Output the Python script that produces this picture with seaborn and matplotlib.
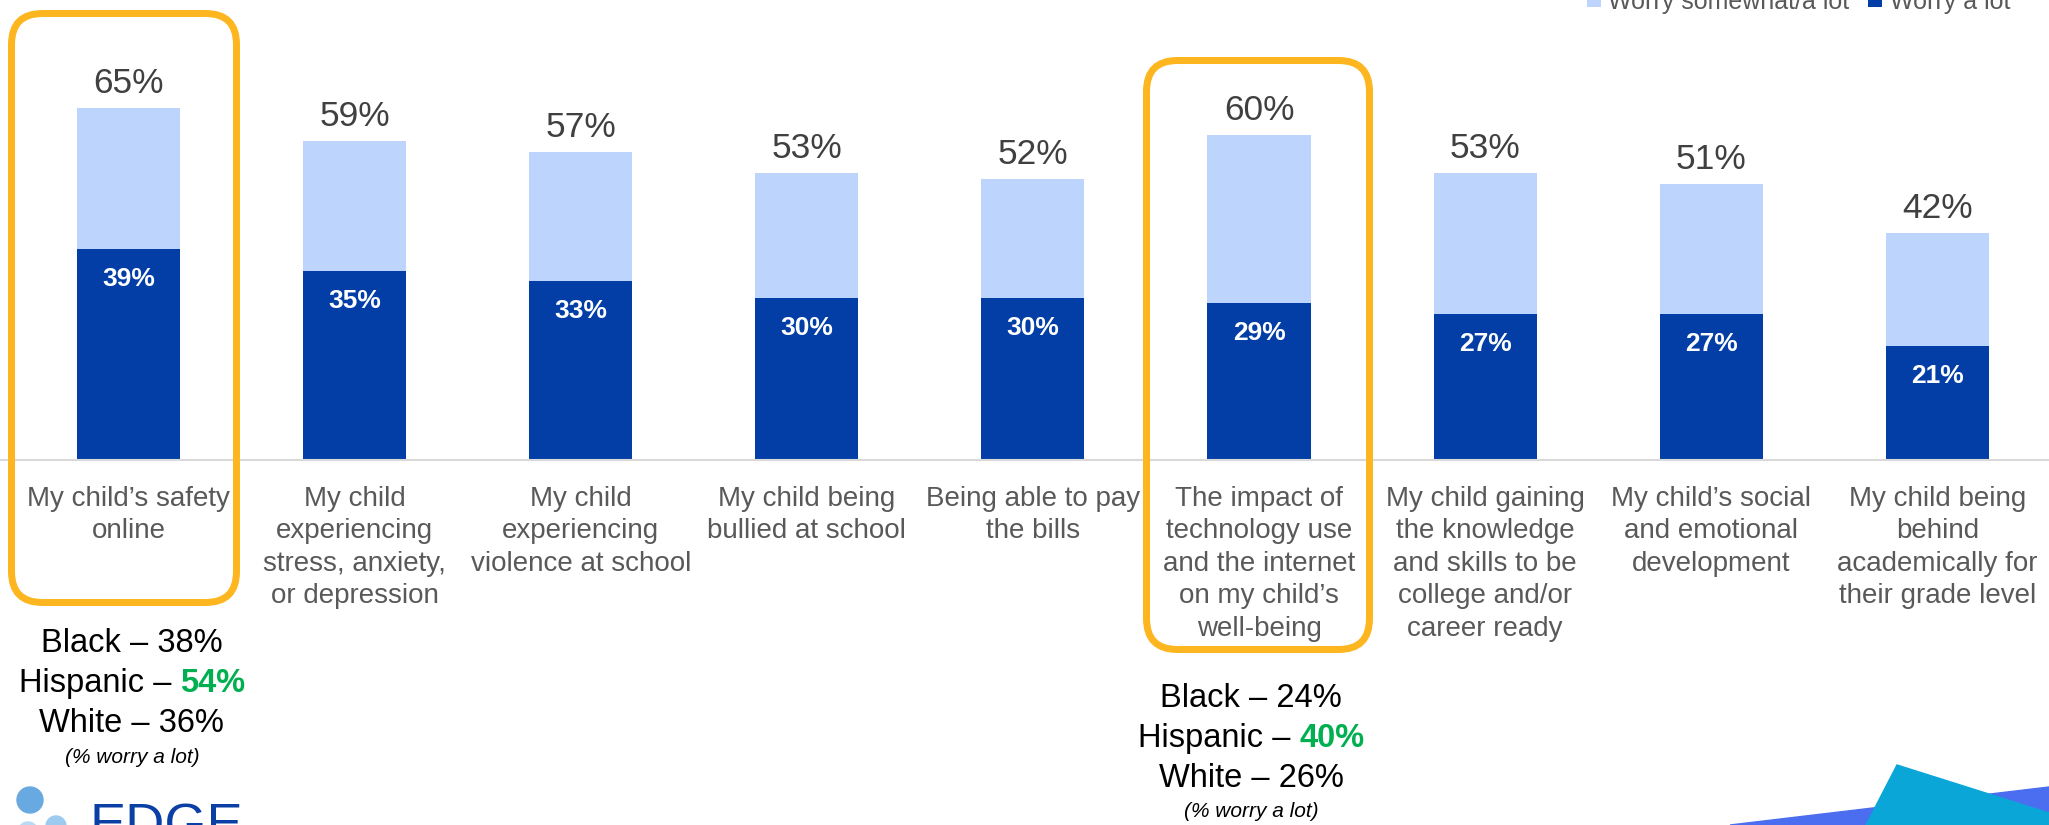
import matplotlib
matplotlib.use("Agg")
import matplotlib.pyplot as plt
import pandas as pd
import seaborn as sns
from matplotlib.patches import FancyBboxPatch, Circle, Polygon
from matplotlib.transforms import IdentityTransform, offset_copy

# ---- data -------------------------------------------------------------
categories = [
    "My child\u2019s safety\nonline",
    "My child\nexperiencing\nstress, anxiety,\nor depression",
    "My child\nexperiencing\nviolence at school",
    "My child being\nbullied at school",
    "Being able to pay\nthe bills",
    "The impact of\ntechnology use\nand the internet\non my child\u2019s\nwell-being",
    "My child gaining\nthe knowledge\nand skills to be\ncollege and/or\ncareer ready",
    "My child\u2019s social\nand emotional\ndevelopment",
    "My child being\nbehind\nacademically for\ntheir grade level",
]
worry_total = [65, 59, 57, 53, 52, 60, 53, 51, 42]
worry_lot = [39, 35, 33, 30, 30, 29, 27, 27, 21]
series_names = ["Worry somewhat/a lot", "Worry a lot"]

group_labels = ["Black", "Hispanic", "White"]
safety_online_by_group = [38, 54, 36]
tech_impact_by_group = [24, 40, 26]
group_note = "(% worry a lot)"

# ---- style ------------------------------------------------------------
LIGHT = "#BDD5FC"
DARK = "#023EA5"
ORANGE = "#FDB61F"
GREEN = "#00B050"
AXIS_GREY = "#D9D9D9"
VALUE_GREY = "#404040"
LABEL_GREY = "#595959"

sns.set_style("white")
plt.rcParams["font.family"] = ["Liberation Sans", "DejaVu Sans"]

W, H, DPI = 2049, 825, 100
BASE_PX = 460.0      # pixel row of the zero line
PX_PER_PCT = 5.41    # vertical pixels per percentage point
X0_PX = 128.5        # pixel column of the first category
STEP_PX = 226.1      # pixel distance between categories

fig = plt.figure(figsize=(W / DPI, H / DPI), dpi=DPI)
ax = fig.add_axes([0, 0, 1, 1])

df = pd.DataFrame({"category": categories, "total": worry_total, "lot": worry_lot})

sns.barplot(data=df, x="category", y="total", color=LIGHT, saturation=1,
            width=0.456, linewidth=0, ax=ax, label=series_names[0])
sns.barplot(data=df, x="category", y="lot", color=DARK, saturation=1,
            width=0.456, linewidth=0, ax=ax, label=series_names[1])

handles, labels = ax.get_legend_handles_labels()
if ax.get_legend() is not None:
    ax.get_legend().remove()

ax.set_xlim(-X0_PX / STEP_PX, (W - X0_PX) / STEP_PX)
ax.set_ylim(-(H - BASE_PX) / PX_PER_PCT, BASE_PX / PX_PER_PCT)


def y_from_px(py):
    return (BASE_PX - py) / PX_PER_PCT


# axis: only a light baseline at zero, category names below it
for side in ("top", "left", "right"):
    ax.spines[side].set_visible(False)
ax.spines["bottom"].set_position(("data", 0))
ax.spines["bottom"].set_color(AXIS_GREY)
ax.spines["bottom"].set_linewidth(1.5)
ax.set_yticks([])
ax.set_xlabel("")
ax.set_ylabel("")
ax.tick_params(axis="x", length=0, pad=18.5, labelsize=20, labelcolor=LABEL_GREY)
for lbl in ax.get_xticklabels():
    lbl.set_linespacing(1.33)

# value labels
for i, (tot, lot) in enumerate(zip(worry_total, worry_lot)):
    ax.text(i, tot + 15 / PX_PER_PCT, f"{tot}%", ha="center", va="baseline",
            fontsize=25.5, color=VALUE_GREY)
    ax.text(i, lot - 37 / PX_PER_PCT, f"{lot}%", ha="center", va="baseline",
            fontsize=19, color="white", fontweight="bold")

# legend along the top edge
fig.legend(handles, labels, loc="center right",
           bbox_to_anchor=(2010 / W, 1 - 1.5 / H), ncol=2, frameon=False,
           fontsize=18, labelcolor=LABEL_GREY, handlelength=0.55,
           handleheight=0.55, handletextpad=0.3, columnspacing=0.75,
           borderpad=0, borderaxespad=0)

# highlight frames around two categories
ident = IdentityTransform()


def frame(x0, y0, x1, y1):
    lw_px = 7
    x0 += lw_px / 2; x1 -= lw_px / 2; y0 += lw_px / 2; y1 -= lw_px / 2
    patch = FancyBboxPatch((x0, H - y1), x1 - x0, y1 - y0,
                           boxstyle="round,pad=0,rounding_size=31",
                           linewidth=lw_px * 72 / DPI, edgecolor=ORANGE,
                           facecolor="none", transform=ident, zorder=5)
    fig.add_artist(patch)


frame(8, 10, 240, 606)
frame(1143, 57, 1373, 653)

# breakdown by group under the highlighted categories
renderer = fig.canvas.get_renderer()
FS_GROUP = 23.5


def group_block(x, baselines_px, values, note_px):
    top = values.index(max(values))
    for k, (name, v, ypx) in enumerate(zip(group_labels, values, baselines_px)):
        y = y_from_px(ypx)
        if k != top:
            ax.text(x, y, f"{name} \u2013 {v}%", ha="center", va="baseline",
                    fontsize=FS_GROUP, color="black")
            continue
        t1 = ax.text(x, y, f"{name} \u2013", ha="left", va="baseline",
                     fontsize=FS_GROUP, color="black")
        t2 = ax.text(x, y, f"{v}%", ha="left", va="baseline",
                     fontsize=FS_GROUP, color=GREEN, fontweight="bold")
        w1 = t1.get_window_extent(renderer).width
        w2 = t2.get_window_extent(renderer).width
        gap = 0.278 * FS_GROUP * DPI / 72
        total_w = w1 + gap + w2
        t1.set_transform(offset_copy(ax.transData, fig=fig, x=-total_w / 2, y=0, units="dots"))
        t2.set_transform(offset_copy(ax.transData, fig=fig, x=-total_w / 2 + w1 + gap, y=0, units="dots"))
    ax.text(x, y_from_px(note_px), group_note, ha="center", va="baseline",
            fontsize=15, style="italic", color="black")


group_block(0.015, [652, 692, 732], safety_online_by_group, 763)
group_block(4.965, [707, 747, 787], tech_impact_by_group, 817)

# logo in the lower left corner
for (cx, cy, r, c) in [(30, 800, 13, "#69A9E2"), (56, 826, 10, "#9DCBF0"),
                       (28, 832, 10, "#B9DAF4")]:
    fig.add_artist(Circle((cx, H - cy), r, color=c, transform=ident, zorder=6))
fig.text(90 / W, 1 - 842 / H, "EDGE", fontsize=39, color="#0A3FA6",
         ha="left", va="baseline")

# decorative shapes in the lower right corner
fig.add_artist(Polygon([(1730, H - 825), (2049, H - 787), (2049, 0)],
                       closed=True, color="#4B6EF0", transform=ident, zorder=6))
fig.add_artist(Polygon([(1897, H - 765), (2049, H - 813), (2049, 0), (1866, 0)],
                       closed=True, color="#0AA6D8", transform=ident, zorder=7))

fig.savefig("out.png", dpi=DPI)
